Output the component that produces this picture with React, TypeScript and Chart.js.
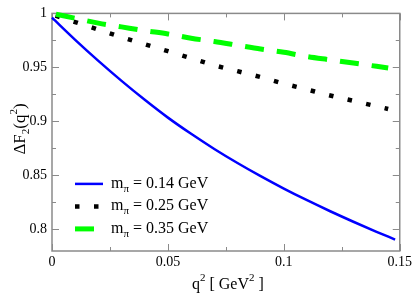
import { useEffect, useRef } from "react";
import { Chart, registerables } from "chart.js";

Chart.register(...registerables);

// ---- data ----
const qBlue = [0, 0.01, 0.02, 0.03, 0.04, 0.05, 0.06, 0.07, 0.08, 0.09, 0.1, 0.11, 0.12, 0.13, 0.14, 0.148];
const fBlue = [0.996, 0.9755, 0.956, 0.9375, 0.92, 0.9035, 0.8885, 0.8745, 0.8615, 0.8493, 0.8378, 0.827, 0.8168, 0.8071, 0.7978, 0.7906];

const qBlack = [0, 0.01, 0.02, 0.03, 0.04, 0.05, 0.06, 0.07, 0.08, 0.09, 0.1, 0.11, 0.12, 0.13, 0.14, 0.145];
const fBlack = [0.999, 0.992, 0.985, 0.978, 0.9715, 0.965, 0.9585, 0.952, 0.9465, 0.941, 0.935, 0.9295, 0.924, 0.919, 0.914, 0.9115];

const qGreen = [0, 0.01, 0.02, 0.03, 0.04, 0.05, 0.06, 0.07, 0.08, 0.09, 0.1, 0.11, 0.12, 0.13, 0.14, 0.145];
const fGreen = [1.0, 0.9955, 0.991, 0.9875, 0.984, 0.981, 0.977, 0.974, 0.9705, 0.967, 0.964, 0.96, 0.957, 0.954, 0.951, 0.9495];

const pionMasses = ["0.14", "0.25", "0.35"];
const seriesLabels = pionMasses.map((m) => `mπ = ${m} GeV`);

const xTicks = [0, 0.05, 0.1, 0.15];
const xTickLabels = ["0", "0.05", "0.1", "0.15"];
const xMinorTicks = [0.025, 0.075, 0.125];
const yTicks = [0.8, 0.85, 0.9, 0.95, 1];
const yTickLabels = ["0.8", "0.85", "0.9", "0.95", "1"];
const yMinorTicks = [0.825, 0.875, 0.925, 0.975];

const FONT = "'Liberation Serif', 'Times New Roman', serif";
Chart.defaults.font.family = FONT;

type Part = { text: string; size: number; dy: number };

function richWidth(ctx: CanvasRenderingContext2D, parts: Part[]) {
  let w = 0;
  for (const p of parts) {
    ctx.font = `${p.size}px ${FONT}`;
    w += ctx.measureText(p.text).width;
  }
  return w;
}

function drawRich(ctx: CanvasRenderingContext2D, parts: Part[], x: number, y: number) {
  let cx = x;
  ctx.textBaseline = "alphabetic";
  ctx.textAlign = "left";
  for (const p of parts) {
    ctx.font = `${p.size}px ${FONT}`;
    ctx.fillText(p.text, cx, y + p.dy);
    cx += ctx.measureText(p.text).width;
  }
}

const framePlugin = {
  id: "frame",
  beforeDatasetsDraw(chart: any) {
    const { ctx, chartArea: a, scales } = chart;
    const x = scales.x;
    const y = scales.y;
    ctx.save();
    ctx.strokeStyle = "#8a8a8a";
    ctx.lineWidth = 1;
    ctx.beginPath();
    const xt = (vals: number[], len: number) => {
      for (const v of vals) {
        const px = Math.round(x.getPixelForValue(v)) + 0.5;
        ctx.moveTo(px, a.bottom);
        ctx.lineTo(px, a.bottom - len);
        ctx.moveTo(px, a.top);
        ctx.lineTo(px, a.top + len);
      }
    };
    const yt = (vals: number[], len: number) => {
      for (const v of vals) {
        const py = Math.round(y.getPixelForValue(v)) + 0.5;
        ctx.moveTo(a.left, py);
        ctx.lineTo(a.left + len, py);
        ctx.moveTo(a.right, py);
        ctx.lineTo(a.right - len, py);
      }
    };
    xt(xTicks, 7);
    xt(xMinorTicks, 4);
    yt(yTicks, 7);
    yt(yMinorTicks, 4);
    ctx.stroke();
    ctx.lineWidth = 1.5;
    ctx.strokeRect(a.left, a.top, a.right - a.left, a.bottom - a.top);
    ctx.restore();
  },
  afterDatasetsDraw(chart: any) {
    const { ctx, chartArea: a } = chart;
    ctx.save();
    // legend
    chart.data.datasets.forEach((ds: any, i: number) => {
      const cy = a.top + 170.5 + i * 22.5;
      ctx.save();
      ctx.strokeStyle = ds.borderColor;
      ctx.lineWidth = ds.borderWidth;
      ctx.lineCap = "butt";
      ctx.setLineDash(ds.borderDash || []);
      ctx.lineDashOffset = 0;
      ctx.beginPath();
      ctx.moveTo(a.left + 23, cy);
      ctx.lineTo(a.left + 51, cy);
      ctx.stroke();
      ctx.restore();
      ctx.fillStyle = "#000";
      drawRich(
        ctx,
        [
          { text: "m", size: 16, dy: 0 },
          { text: "π", size: 11, dy: 4 },
          { text: ` = ${pionMasses[i]} GeV`, size: 16, dy: 0 },
        ],
        a.left + 59,
        cy + 4
      );
    });
    // x title
    ctx.fillStyle = "#000";
    const xParts: Part[] = [
      { text: "q", size: 16, dy: 0 },
      { text: "2", size: 11, dy: -8 },
      { text: " [ GeV", size: 16, dy: 0 },
      { text: "2", size: 11, dy: -8 },
      { text: " ]", size: 16, dy: 0 },
    ];
    const xw = richWidth(ctx, xParts);
    drawRich(ctx, xParts, (a.left + a.right) / 2 - xw / 2 + 2, 289);
    // y title
    const yParts: Part[] = [
      { text: "ΔF", size: 17, dy: 0 },
      { text: "2", size: 11, dy: 4 },
      { text: "(q", size: 17, dy: 0 },
      { text: "2", size: 11, dy: -8 },
      { text: ")", size: 17, dy: 0 },
    ];
    const yw = richWidth(ctx, yParts);
    ctx.translate(25, 129);
    ctx.rotate(-Math.PI / 2);
    drawRich(ctx, yParts, -yw / 2, 0);
    ctx.restore();
  },
};

export default function App() {
  const ref = useRef<HTMLCanvasElement>(null);
  useEffect(() => {
    if (!ref.current) return;
    const pts = (qs: number[], fs: number[]) => qs.map((q, i) => ({ x: q, y: fs[i] }));
    const chart = new Chart(ref.current, {
      type: "line",
      data: {
        datasets: [
          {
            label: seriesLabels[0],
            data: pts(qBlue, fBlue),
            borderColor: "#0000ff",
            borderWidth: 2.5,
            pointRadius: 0,
            cubicInterpolationMode: "monotone",
            clip: false,
            order: 3,
          } as any,
          {
            label: seriesLabels[1],
            data: pts(qBlack, fBlack),
            borderColor: "#000000",
            borderWidth: 4.5,
            borderDash: [4.5, 14.5],
            borderDashOffset: -3.7,
            borderCapStyle: "butt",
            pointRadius: 0,
            cubicInterpolationMode: "monotone",
            clip: false,
            order: 2,
          },
          {
            label: seriesLabels[2],
            data: pts(qGreen, fGreen),
            borderColor: "#00ff00",
            borderWidth: 5,
            borderDash: [19, 13],
            borderDashOffset: -4,
            borderCapStyle: "butt",
            pointRadius: 0,
            cubicInterpolationMode: "monotone",
            clip: false,
            order: 1,
          },
        ],
      },
      options: {
        animation: false,
        responsive: false,
        layout: { padding: { top: 5, right: 14, left: 0, bottom: 0 } },
        plugins: { legend: { display: false }, tooltip: { enabled: false } },
        scales: {
          x: {
            type: "linear",
            min: 0,
            max: 0.15,
            grid: { display: false, drawTicks: false },
            border: { display: false },
            ticks: {
              padding: 3,
              color: "#000",
              font: { family: FONT, size: 14 },
              autoSkip: false,
              maxRotation: 0,
              callback: (_v: any, i: number) => xTickLabels[i],
            },
            afterBuildTicks: (s: any) => {
              s.ticks = xTicks.map((v) => ({ value: v }));
            },
            afterFit: (s: any) => {
              s.height = 42;
            },
          },
          y: {
            type: "linear",
            min: 0.78,
            max: 1,
            grid: { display: false, drawTicks: false },
            border: { display: false },
            ticks: {
              padding: 5,
              color: "#000",
              font: { family: FONT, size: 14 },
              autoSkip: false,
              callback: (_v: any, i: number) => yTickLabels[i],
            },
            afterBuildTicks: (s: any) => {
              s.ticks = yTicks.map((v) => ({ value: v }));
            },
            afterFit: (s: any) => {
              s.width = 52;
            },
          },
        },
      },
      plugins: [framePlugin],
    });
    return () => chart.destroy();
  }, []);
  return (
    <div style={{ position: "fixed", left: 0, top: 0, width: 415, height: 293, background: "#fff" }}>
      <canvas ref={ref} width={415} height={293} style={{ display: "block" }} />
    </div>
  );
}
